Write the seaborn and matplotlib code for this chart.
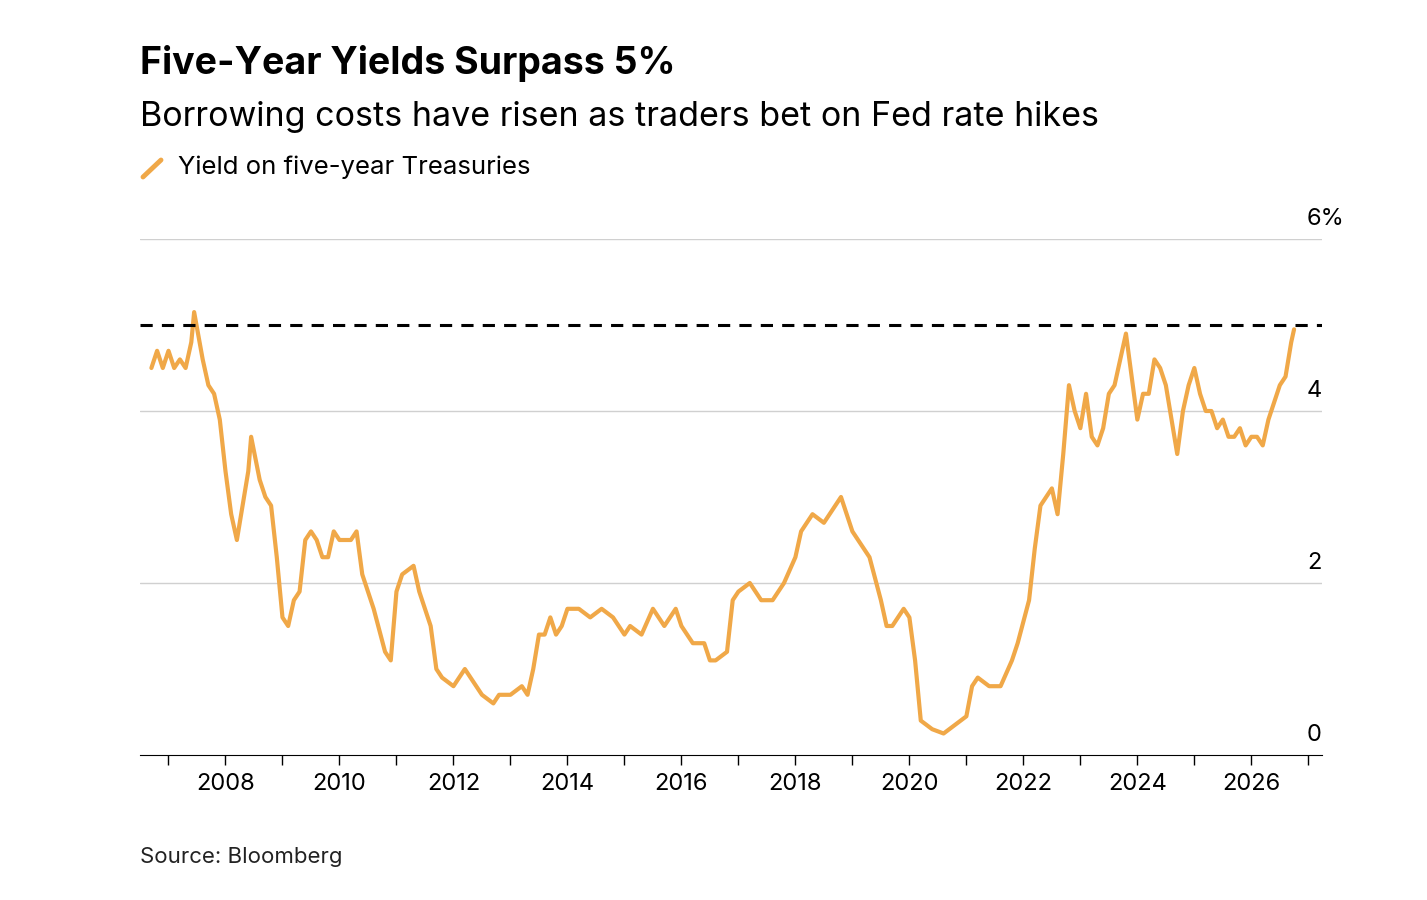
import matplotlib
matplotlib.use("Agg")
import matplotlib.pyplot as plt
import matplotlib.transforms as mtransforms
import seaborn as sns
import pandas as pd
from matplotlib.lines import Line2D
from matplotlib.ticker import MultipleLocator

# values (decimal year, yield %)
years = [2006.7, 2006.8, 2006.9, 2007.0, 2007.1, 2007.2, 2007.3, 2007.4, 2007.45, 2007.6, 2007.7, 2007.8,
         2007.9, 2008.0, 2008.1, 2008.2, 2008.3, 2008.4, 2008.45, 2008.6, 2008.7, 2008.8, 2008.9, 2009.0,
         2009.1, 2009.2, 2009.3, 2009.4, 2009.5, 2009.6, 2009.7, 2009.8, 2009.9, 2010.0, 2010.2, 2010.3,
         2010.4, 2010.6, 2010.8, 2010.9, 2011.0, 2011.1, 2011.3, 2011.4, 2011.6, 2011.7, 2011.8, 2012.0,
         2012.2, 2012.3, 2012.5, 2012.7, 2012.8, 2013.0, 2013.2, 2013.3, 2013.4, 2013.5, 2013.6, 2013.7,
         2013.8, 2013.9, 2014.0, 2014.2, 2014.4, 2014.6, 2014.8, 2015.0, 2015.1, 2015.3, 2015.5, 2015.7,
         2015.9, 2016.0, 2016.2, 2016.4, 2016.5, 2016.6, 2016.8, 2016.9, 2017.0, 2017.2, 2017.4, 2017.6,
         2017.8, 2018.0, 2018.1, 2018.3, 2018.5, 2018.7, 2018.8, 2019.0, 2019.1, 2019.3, 2019.5, 2019.6,
         2019.7, 2019.9, 2020.0, 2020.1, 2020.2, 2020.4, 2020.6, 2020.8, 2020.9, 2021.0, 2021.1, 2021.2,
         2021.4, 2021.6, 2021.8, 2021.9, 2022.1, 2022.2, 2022.3, 2022.5, 2022.6, 2022.7, 2022.8, 2022.9,
         2023.0, 2023.1, 2023.2, 2023.3, 2023.4, 2023.5, 2023.6, 2023.7, 2023.8, 2023.9, 2024.0, 2024.1,
         2024.2, 2024.3, 2024.4, 2024.5, 2024.6, 2024.7, 2024.8, 2024.9, 2025.0, 2025.1, 2025.2, 2025.3,
         2025.4, 2025.5, 2025.6, 2025.7, 2025.8, 2025.9, 2026.0, 2026.1, 2026.2, 2026.3, 2026.4, 2026.5,
         2026.6, 2026.7, 2026.75]
yields = [4.5, 4.7, 4.5, 4.7, 4.5, 4.6, 4.5, 4.8, 5.15, 4.6, 4.3, 4.2,
          3.9, 3.3, 2.8, 2.5, 2.9, 3.3, 3.7, 3.2, 3.0, 2.9, 2.3, 1.6,
          1.5, 1.8, 1.9, 2.5, 2.6, 2.5, 2.3, 2.3, 2.6, 2.5, 2.5, 2.6,
          2.1, 1.7, 1.2, 1.1, 1.9, 2.1, 2.2, 1.9, 1.5, 1.0, 0.9, 0.8,
          1.0, 0.9, 0.7, 0.6, 0.7, 0.7, 0.8, 0.7, 1.0, 1.4, 1.4, 1.6,
          1.4, 1.5, 1.7, 1.7, 1.6, 1.7, 1.6, 1.4, 1.5, 1.4, 1.7, 1.5,
          1.7, 1.5, 1.3, 1.3, 1.1, 1.1, 1.2, 1.8, 1.9, 2.0, 1.8, 1.8,
          2.0, 2.3, 2.6, 2.8, 2.7, 2.9, 3.0, 2.6, 2.5, 2.3, 1.8, 1.5,
          1.5, 1.7, 1.6, 1.1, 0.4, 0.3, 0.25, 0.35, 0.4, 0.45, 0.8, 0.9,
          0.8, 0.8, 1.1, 1.3, 1.8, 2.4, 2.9, 3.1, 2.8, 3.5, 4.3, 4.0,
          3.8, 4.2, 3.7, 3.6, 3.8, 4.2, 4.3, 4.6, 4.9, 4.4, 3.9, 4.2,
          4.2, 4.6, 4.5, 4.3, 3.9, 3.5, 4.0, 4.3, 4.5, 4.2, 4.0, 4.0,
          3.8, 3.9, 3.7, 3.7, 3.8, 3.6, 3.7, 3.7, 3.6, 3.9, 4.1, 4.3,
          4.4, 4.8, 4.95]
threshold = 5.0
year_ticks = list(range(2008, 2027, 2))
y_ticks = [0, 2, 4, 6]
y_labels = ["0", "2", "4", "6%"]

df = pd.DataFrame({"year": years, "yield": yields})

sns.set_style("white")
plt.rcParams['font.family'] = ['Inter', 'DejaVu Sans']
orange = "#f0a848"

fig = plt.figure(figsize=(14.27, 9), dpi=100)
ax = fig.add_axes([140/1427, 1-755/900, (1322-140)/1427, (755-239)/900])
sns.lineplot(data=df, x="year", y="yield", ax=ax, color=orange, linewidth=3)
ax.axhline(threshold, xmin=0, xmax=1, color="black", ls=(0, (4, 3)), lw=2.2, zorder=3)
ax.set_xlim(2006.5, 2027.24)
ax.set_ylim(0, 6)
for t in y_ticks[1:]:
    ax.axhline(t, color="#d0d0d0", lw=1, zorder=0)

ax.set_yticks([])
trans = mtransforms.blended_transform_factory(ax.transAxes, ax.transData)
for t, lab in zip(y_ticks, y_labels):
    ax.text(1307/1182 - 140/1182, t + 0.1, lab, transform=trans, fontsize=17,
            ha="left", va="bottom", color="black")

ax.set_xticks(year_ticks)
ax.xaxis.set_minor_locator(MultipleLocator(1))
ax.tick_params(axis="x", which="both", direction="out", length=7, width=1, color="black",
               labelsize=17, pad=6, bottom=True, labelcolor="black")
for s in ["top", "right", "left"]:
    ax.spines[s].set_visible(False)
ax.spines["bottom"].set_color("black")
ax.set_xlabel("")
ax.set_ylabel("")

fig.text(140/1427, 1-63/900, "Five-Year Yields Surpass 5%", fontsize=27, fontweight="bold",
         va="center", color="black")
fig.text(140/1427, 1-117/900, "Borrowing costs have risen as traders bet on Fed rate hikes",
         fontsize=24.5, va="center", color="black")
fig.add_artist(Line2D([143/1427, 161/1427], [1-177/900, 1-160/900], color=orange, lw=3.5,
                      transform=fig.transFigure))
fig.text(178/1427, 1-167/900, "Yield on five-year Treasuries", fontsize=18.5, va="center", color="black")
fig.text(140/1427, 1-857/900, "Source: Bloomberg", fontsize=16, va="center", color="#222222")

fig.savefig("out.png", dpi=100)
